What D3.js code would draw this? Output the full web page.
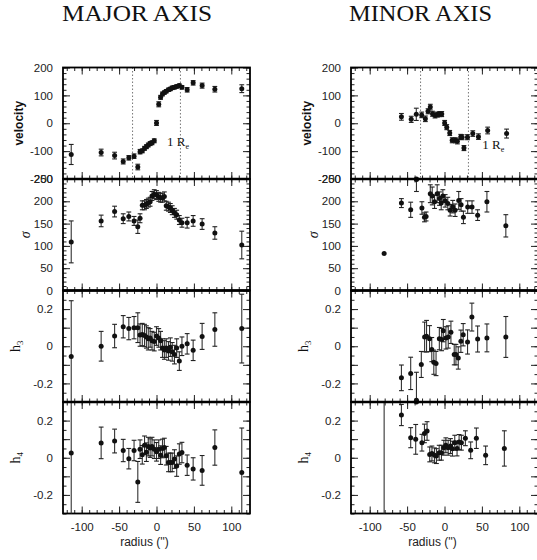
<!DOCTYPE html>
<html><head><meta charset="utf-8">
<script src="https://cdn.jsdelivr.net/npm/d3@7"></script>
<style>body{margin:0;background:#fff} svg{display:block}</style>
</head><body><svg id="c" width="537" height="560"></svg>
<script>
// ---------------- DATA ----------------
const majorR = [-114, -74, -56, -44.5, -37, -30, -25, -22, -19, -16, -13.5, -11, -8.5, -6, -3, 0, 3, 5.5, 8, 10.5, 13, 16, 18.5, 21, 24, 27, 30.5, 34, 41, 49, 61, 78, 114];
const majorVel = [-112, -105, -116, -137, -124, -118, -157, -102, -99, -90, -84, -78, -73, -70, -63, 1, 68, 93, 105, 110, 115, 120, 123, 127, 129, 132, 135, 129, 120, 145, 135, 122, 124];
const majorVelErr = [36, 12, 12, 9, 8, 8, 10, 8, 7, 7, 7, 7, 7, 7, 7, 9, 9, 7, 7, 6, 6, 6, 6, 6, 6, 6, 6, 6, 8, 8, 9, 10, 14];
const majorSig = [109, 156, 177, 161, 166, 156, 143, 162, 191, 191, 194, 197, 199, 212, 216, 214, 210, 208, 208, 211, 190, 188, 185, 180, 174, 170, 158, 152, 152, 156, 149, 129, 102];
const majorSigErr = [47, 13, 12, 11, 10, 10, 15, 10, 10, 10, 10, 10, 10, 10, 10, 10, 10, 10, 10, 10, 10, 10, 10, 10, 10, 10, 10, 10, 12, 12, 12, 14, 31];
const majorH3 = [-0.055, 0.0, 0.055, 0.105, 0.095, 0.1, 0.1, 0.06, 0.063, 0.058, 0.05, 0.04, 0.045, 0.03, 0.025, 0.055, 0.045, 0.03, -0.01, -0.02, -0.01, -0.025, -0.005, -0.03, -0.045, -0.01, -0.08, 0.0, 0.013, -0.022, 0.053, 0.09, 0.095];
const majorH3Err = [0.30, 0.08, 0.063, 0.06, 0.06, 0.06, 0.08, 0.06, 0.06, 0.06, 0.06, 0.06, 0.05, 0.05, 0.05, 0.05, 0.05, 0.05, 0.05, 0.05, 0.05, 0.05, 0.05, 0.05, 0.05, 0.05, 0.05, 0.05, 0.055, 0.055, 0.07, 0.09, 0.185];
const majorH4 = [0.025, 0.08, 0.09, 0.039, -0.005, 0.039, -0.13, 0.046, 0.016, 0.067, 0.03, 0.06, 0.052, 0.06, 0.046, 0.032, 0.046, 0.014, 0.05, 0.055, 0.011, -0.025, -0.025, -0.025, -0.007, -0.045, 0.02, 0.028, -0.04, -0.06, -0.068, 0.055, -0.08];
const majorH4Err = [0.5, 0.085, 0.064, 0.06, 0.055, 0.055, 0.11, 0.05, 0.05, 0.05, 0.05, 0.05, 0.05, 0.05, 0.05, 0.05, 0.05, 0.05, 0.05, 0.05, 0.05, 0.05, 0.05, 0.05, 0.05, 0.055, 0.055, 0.055, 0.055, 0.06, 0.08, 0.095, 0.24];

const minorVelR = [-57.6, -44.5, -37.7, -30.5, -25.6, -22, -19, -16, -12.7, -9.5, -6.5, -3.7, 0.2, 3, 7, 10.3, 14.5, 17.2, 21.7, 23.5, 26, 30.7, 37.8, 45.4, 57.7, 83, -37.5];
const minorVel = [23, 14, 32, 30, 16, 43, 58, 34, 28, 31, 33, 33, 1, -14, -35, -61, -61, -65, -49, -50, -89, -50, -37, -48, -26, -37, -200];
const minorVelErr = [12, 11, 22, 10, 10, 9, 10, 9, 9, 9, 9, 9, 9, 9, 9, 9, 9, 9, 9, 9, 9, 9, 10, 10, 12, 16, 0];
const minorSigR = [-80.7, -57.6, -45.2, -37.5, -30.2, -26.8, -24.6, -19, -16.4, -13.3, -9.8, -6.7, -4.4, -2.2, 0.9, 4.4, 7.5, 11, 14.2, 19, 22.2, 25.3, 31, 36.8, 44.3, 56.7, 82];
const minorSig = [83, 196, 181, 249, 185, 164, 166, 217, 212, 199, 217, 206, 196, 212, 201, 195, 180, 188, 180, 202, 192, 164, 187, 187, 169, 199, 145];
const minorSigErr = [0, 10, 17, 27, 14, 10, 10, 20, 20, 15, 20, 15, 15, 14, 14, 14, 13, 14, 14, 20, 14, 14, 14, 14, 12, 23, 25];
const minorH3R = [-57.6, -45.2, -37.5, -31, -26.6, -24, -20, -17, -14.3, -11.3, -6.9, -3.8, -1.6, 1.9, 5, 8.6, 13, 15.3, 18.4, 21.9, 25, 30.8, 36.6, 44.3, 56.7, 82];
const minorH3 = [-0.17, -0.146, -0.29, -0.098, 0.05, 0.054, 0.041, -0.018, -0.086, -0.093, 0.041, 0.036, 0.084, 0.045, 0.05, 0.075, -0.045, -0.045, -0.063, 0.027, 0.062, 0.023, 0.157, 0.039, 0.045, 0.05];
const minorH3Err = [0.069, 0.087, 0.15, 0.07, 0.08, 0.085, 0.07, 0.065, 0.065, 0.065, 0.06, 0.06, 0.06, 0.06, 0.06, 0.06, 0.055, 0.055, 0.06, 0.06, 0.06, 0.065, 0.075, 0.07, 0.075, 0.11];
const minorH4R = [-80.7, -57.6, -45.2, -37.5, -38.5, -30.2, -26.8, -23.3, -19.8, -16.8, -13.4, -10.8, -7.1, -4.1, -0.9, 1.8, 4.9, 8, 10.6, 13.7, 16.8, 19.5, 22.6, 27.9, 35, 42.6, 55, 80];
const minorH4 = [0.6, 0.23, 0.108, 0.3, 0.099, 0.081, 0.131, 0.144, 0.018, 0.023, 0.013, 0.009, 0.027, 0.027, 0.054, 0.067, 0.054, 0.063, 0.049, 0.081, 0.05, 0.085, 0.081, 0.105, 0.04, 0.105, 0.013, 0.05];
const minorH4Err = [1.0, 0.057, 0.054, 0, 0.08, 0.045, 0.05, 0.05, 0.04, 0.04, 0.04, 0.04, 0.04, 0.04, 0.04, 0.04, 0.04, 0.04, 0.04, 0.04, 0.04, 0.04, 0.04, 0.04, 0.045, 0.055, 0.05, 0.095];

const effRadius = [-32, 32];          // 1 R_e dotted lines
const xTickLabels = [-100, -50, 0, 50, 100];
const velTickLabels = [-200, -100, 0, 100, 200];
const sigTickLabels = [0, 50, 100, 150, 200, 250];
const hTickLabels = [-0.2, 0, 0.2];
const titles = ["MAJOR AXIS", "MINOR AXIS"];
const xTitle = "radius ('')";

// ---------------- LAYOUT ----------------
const svg = d3.select("#c");
const colX = [63, 351], panelW = 187, top0 = 67.5, panelH = 111.5;
const sans = "'Liberation Sans', Arial, Helvetica, sans-serif";
const serif = "'Liberation Serif', 'DejaVu Serif', serif";

const panels = [
  {key: "vel", domain: [-200, 200], labels: velTickLabels, major: d3.range(-200, 201, 100), minor: d3.range(-200, 201, 20)},
  {key: "sig", domain: [0, 250], labels: sigTickLabels, major: d3.range(0, 251, 50), minor: d3.range(0, 251, 10)},
  {key: "h3", domain: [-0.3, 0.3], labels: hTickLabels, major: [-0.2, -0.1, 0, 0.1, 0.2], minor: d3.range(-6, 7).map(d => d * 0.05)},
  {key: "h4", domain: [-0.3, 0.3], labels: hTickLabels, major: [-0.2, -0.1, 0, 0.1, 0.2], minor: d3.range(-6, 7).map(d => d * 0.05)}
];

const datasets = [
  {vel: [majorR, majorVel, majorVelErr], sig: [majorR, majorSig, majorSigErr], h3: [majorR, majorH3, majorH3Err], h4: [majorR, majorH4, majorH4Err]},
  {vel: [minorVelR, minorVel, minorVelErr], sig: [minorSigR, minorSig, minorSigErr], h3: [minorH3R, minorH3, minorH3Err], h4: [minorH4R, minorH4, minorH4Err]}
];
const titleX = [137, 420.5], titleLen = [150, 143];
const reLabel = [[14, -82], [50.5, -92]];

const fmt = d => String(d);

function ylabel(g, key, cx, cy) {
  const t = g.append("text").attr("transform", `translate(${cx},${cy}) rotate(-90)`)
    .attr("text-anchor", "middle").attr("fill", "#111");
  if (key === "vel") {
    t.attr("font-family", sans).attr("font-size", 12).attr("font-weight", "bold").attr("dy", "0.35em").text("velocity");
  } else if (key === "sig") {
    t.attr("font-family", serif).attr("font-size", 14).attr("font-style", "italic").attr("dy", "0.3em").text("σ");
  } else {
    t.attr("font-family", serif).attr("font-size", 14).attr("dy", "0.3em");
    t.append("tspan").text("h");
    t.append("tspan").attr("font-size", 9).attr("dy", "0.3em").text(key === "h3" ? "3" : "4");
  }
}

titles.forEach((title, c) => {
  const x0 = colX[c];
  const x = d3.scaleLinear().domain([-125, 125]).range([x0, x0 + panelW]);
  svg.append("text").attr("x", titleX[c]).attr("y", 21).attr("text-anchor", "middle")
    .attr("font-family", serif).attr("font-size", 23).attr("fill", "#111")
    .attr("textLength", titleLen[c]).attr("lengthAdjust", "spacingAndGlyphs").text(title);

  panels.forEach((p, i) => {
    const y0 = top0 + i * panelH;
    const y = d3.scaleLinear().domain(p.domain).range([y0 + panelH, y0]);
    const g = svg.append("g");
    const span = p.domain[1] - p.domain[0];

    // dotted 1 Re lines (top panel)
    if (p.key === "vel") {
      g.selectAll("line.re").data(effRadius).join("line")
        .attr("x1", d => x(d)).attr("x2", d => x(d)).attr("y1", y0).attr("y2", y0 + panelH)
        .attr("stroke", "#777").attr("stroke-width", 1).attr("stroke-dasharray", "1.5,2");
      const t = g.append("text").attr("x", x(reLabel[c][0])).attr("y", y(reLabel[c][1]))
        .attr("font-family", serif).attr("font-size", 13).attr("fill", "#111");
      t.append("tspan").text("1  R");
      t.append("tspan").attr("font-size", 8).attr("dy", 3).text("e");
    }

    // axes ticks
    const mk = (gen, vals, size, tx) => {
      const a = g.append("g").attr("transform", tx).call(gen.tickValues(vals).tickSize(size).tickFormat(""));
      a.select(".domain").remove();
      a.selectAll(".tick line").attr("stroke", "#222").attr("stroke-width", 1);
      return a;
    };
    mk(d3.axisLeft(y), p.minor, -3.5, `translate(${x0},0)`);
    mk(d3.axisLeft(y), p.major, -7, `translate(${x0},0)`);
    mk(d3.axisRight(y), p.minor, -3.5, `translate(${x0 + panelW},0)`);
    mk(d3.axisRight(y), p.major, -7, `translate(${x0 + panelW},0)`);
    const xMinor = d3.range(-120, 121, 10), xMajor = d3.range(-100, 101, 50);
    mk(d3.axisTop(x), xMinor, -3.5, `translate(0,${y0})`);
    mk(d3.axisTop(x), xMajor, -7, `translate(0,${y0})`);
    mk(d3.axisBottom(x), xMinor, -3.5, `translate(0,${y0 + panelH})`);
    mk(d3.axisBottom(x), xMajor, -7, `translate(0,${y0 + panelH})`);

    // labelled left axis
    const la = g.append("g").attr("transform", `translate(${x0},0)`)
      .call(d3.axisLeft(y).tickValues(p.labels).tickSize(0).tickPadding(10).tickFormat(fmt));
    la.select(".domain").remove();
    la.selectAll("text").attr("font-family", sans).attr("font-size", 11.5).attr("fill", "#222");

    if (i === panels.length - 1) {
      const ba = g.append("g").attr("transform", `translate(0,${y0 + panelH})`)
        .call(d3.axisBottom(x).tickValues(xTickLabels).tickSize(0).tickPadding(9).tickFormat(fmt));
      ba.select(".domain").remove();
      ba.selectAll("text").attr("font-family", sans).attr("font-size", 11.5).attr("fill", "#222");
      g.append("text").attr("x", x0 + panelW / 2 - 12).attr("y", y0 + panelH + 32)
        .attr("text-anchor", "middle").attr("font-family", sans).attr("font-size", 12).attr("fill", "#222")
        .text(xTitle);
    }

    // y label
    const lx = p.key === "vel" ? x0 - 44 : p.key === "sig" ? x0 - 37 : x0 - 47;
    ylabel(g, p.key, lx, y0 + panelH / 2);

    // frame
    g.append("rect").attr("x", x0).attr("y", y0).attr("width", panelW).attr("height", panelH)
      .attr("fill", "none").attr("stroke", "#000").attr("stroke-width", 1.8);

    // data
    const [rr, vv, ee] = datasets[c][p.key];
    const pts = rr.map((r, k) => ({r, v: vv[k], e: ee[k]}));
    const clamp = v => Math.max(p.domain[0], Math.min(p.domain[1], v));
    const inside = v => v >= p.domain[0] - 0.001 * span && v <= p.domain[1] + 0.001 * span;
    const dg = g.append("g");
    pts.filter(d => d.e > 0).forEach(d => {
      const lo = d.v - d.e, hi = d.v + d.e;
      if (clamp(hi) === clamp(lo)) return;
      dg.append("line").attr("x1", x(d.r)).attr("x2", x(d.r)).attr("y1", y(clamp(lo))).attr("y2", y(clamp(hi)))
        .attr("stroke", "#333").attr("stroke-width", 1.1);
      [lo, hi].forEach(b => {
        if (b > p.domain[0] && b < p.domain[1]) {
          dg.append("line").attr("x1", x(d.r) - 2.4).attr("x2", x(d.r) + 2.4).attr("y1", y(b)).attr("y2", y(b))
            .attr("stroke", "#222").attr("stroke-width", 1.1);
        }
      });
    });
    dg.selectAll("circle").data(pts.filter(d => inside(d.v))).join("circle")
      .attr("cx", d => x(d.r)).attr("cy", d => y(d.v)).attr("r", 2.5).attr("fill", "#111");
  });

  // thicker internal panel boundaries
  for (let i = 1; i < panels.length; i++) {
    svg.append("line").attr("x1", x0).attr("x2", x0 + panelW).attr("y1", top0 + i * panelH).attr("y2", top0 + i * panelH)
      .attr("stroke", "#000").attr("stroke-width", 2.6);
  }
});
</script></body></html>
